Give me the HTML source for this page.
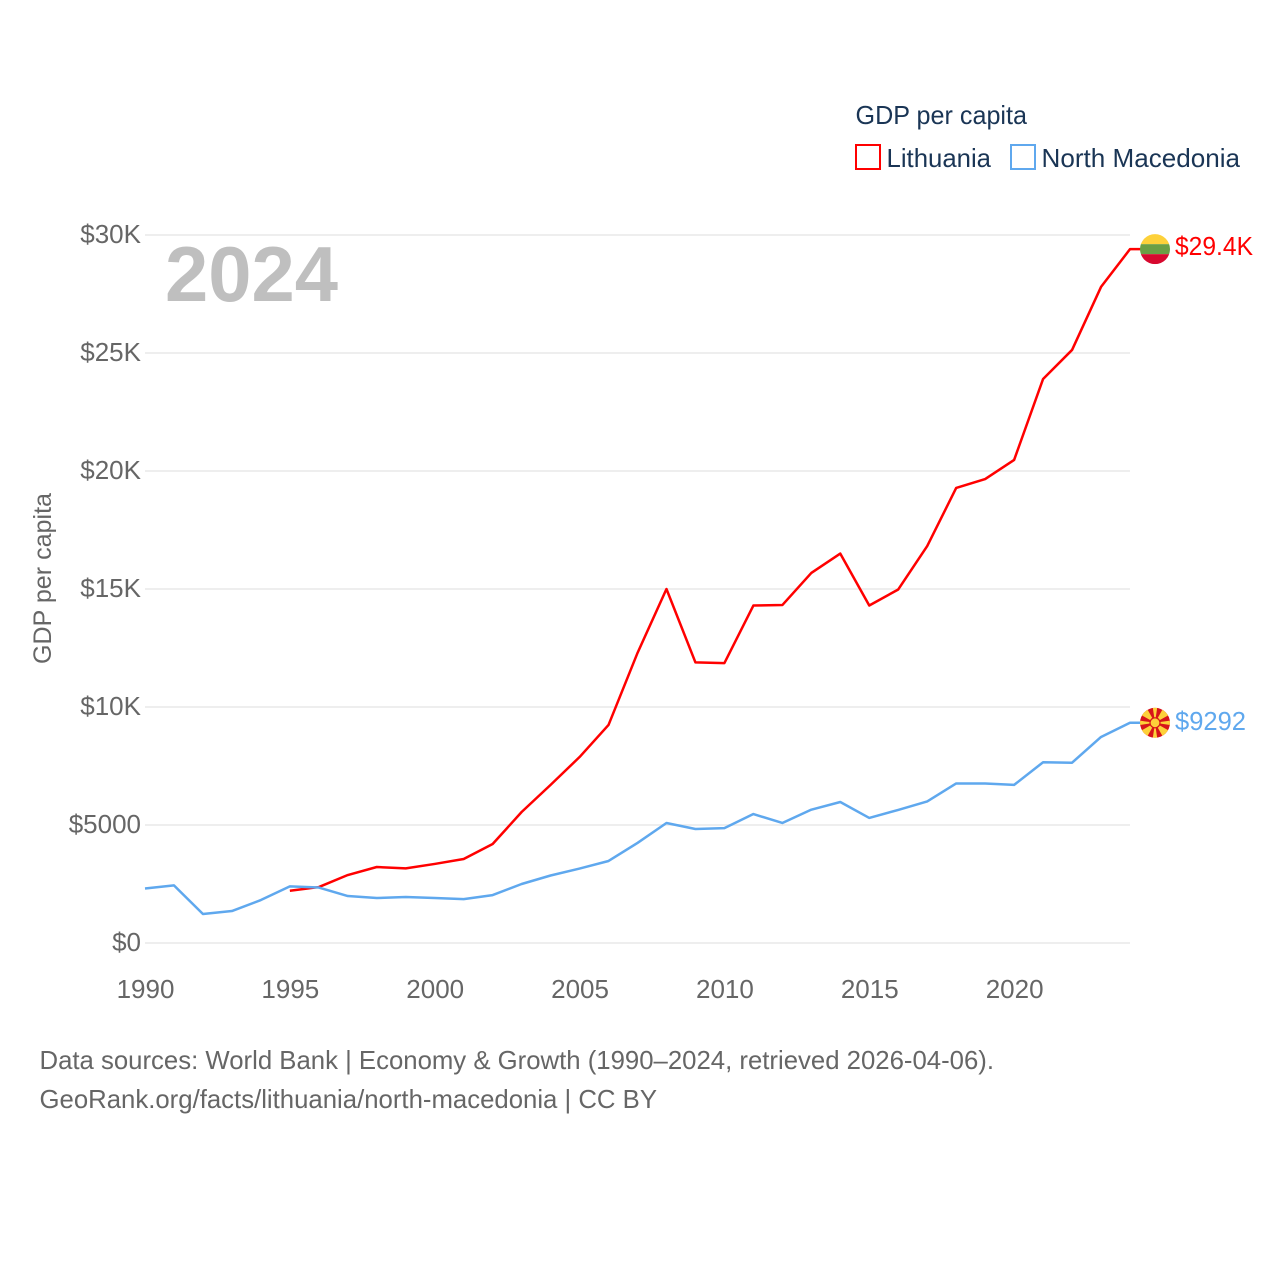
<!DOCTYPE html>
<html lang="en">
<head>
<meta charset="utf-8">
<title>GDP per capita: Lithuania and North Macedonia</title>
<style>
html,body{margin:0;padding:0;background:#fff}
svg{display:block;font-family:"Liberation Sans",sans-serif}
</style>
</head>
<body>
<svg id="chart" width="1280" height="1280" viewBox="0 0 1280 1280" xmlns="http://www.w3.org/2000/svg">
  <defs>
    <clipPath id="flag-clip-lt"><circle cx="0" cy="0" r="15"/></clipPath>
    <clipPath id="flag-clip-mk"><circle cx="0" cy="0" r="15"/></clipPath>
  </defs>
  <g id="grid"></g>
  <g id="y-ticks"></g>
  <g id="x-ticks"></g>
  <g id="series"></g>

  <text x="165" y="301" font-size="78" font-weight="700" fill="#bfbfbf" textLength="173" lengthAdjust="spacingAndGlyphs">2024</text>
  <text transform="translate(51,664) rotate(-90)" font-size="25" fill="#666" textLength="171" lengthAdjust="spacingAndGlyphs">GDP per capita</text>

  <g>
    <text x="855.5" y="124" font-size="26" fill="#1a3555" textLength="171.5" lengthAdjust="spacingAndGlyphs">GDP per capita</text>
    <g>
      <rect x="856" y="145" width="24" height="24" fill="#fff" stroke="#ff0000" stroke-width="2"/>
      <text x="886.5" y="167" font-size="26" fill="#1a3555" textLength="104.5" lengthAdjust="spacingAndGlyphs">Lithuania</text>
    </g>
    <g>
      <rect x="1011" y="145" width="24" height="24" fill="#fff" stroke="#5fa8ee" stroke-width="2"/>
      <text x="1041.5" y="167" font-size="26" fill="#1a3555" textLength="198.5" lengthAdjust="spacingAndGlyphs">North Macedonia</text>
    </g>
  </g>

  <text x="39.5" y="1069" font-size="26" fill="#666" textLength="954.5" lengthAdjust="spacingAndGlyphs">Data sources: World Bank | Economy &amp; Growth (1990–2024, retrieved 2026-04-06).</text>
  <text x="39.5" y="1108" font-size="26" fill="#666" textLength="617.5" lengthAdjust="spacingAndGlyphs">GeoRank.org/facts/lithuania/north-macedonia | CC BY</text>
</svg>
<script>
const years = [1990,1991,1992,1993,1994,1995,1996,1997,1998,1999,2000,2001,2002,2003,2004,2005,2006,2007,2008,2009,2010,2011,2012,2013,2014,2015,2016,2017,2018,2019,2020,2021,2022,2023,2024];
const lithuaniaValues = [null,null,null,null,null,2215,2370,2880,3220,3160,3350,3560,4195,5550,6700,7880,9240,12290,15000,11890,11860,14300,14320,15680,16500,14300,14980,16820,19280,19660,20470,23900,25130,27800,29400];
const macedoniaValues = [2310,2440,1230,1355,1820,2400,2350,1990,1905,1950,1905,1860,2030,2500,2860,3155,3475,4240,5085,4830,4870,5465,5085,5650,5975,5300,5640,6000,6760,6760,6700,7660,7640,8730,9330];
const yTickValues = [0,5000,10000,15000,20000,25000,30000];
const yTickLabels = ["$0","$5000","$10K","$15K","$20K","$25K","$30K"];
const xTickValues = [1990,1995,2000,2005,2010,2015,2020];
const xTickLabels = ["1990","1995","2000","2005","2010","2015","2020"];
const endLabelLithuania = "$29.4K";
const endLabelMacedonia = "$9292";

const NS = "http://www.w3.org/2000/svg";
const xScale = function (year) { return 145 + (year - 1990) * (1130 - 145) / (2024 - 1990); };
const yScale = function (value) { return 943 - value * (943 - 235) / 30000; };
const make = function (tag, attrs, parent) {
  const el = document.createElementNS(NS, tag);
  for (const k in attrs) el.setAttribute(k, attrs[k]);
  parent.appendChild(el);
  return el;
};

const grid = document.getElementById("grid");
const yTicks = document.getElementById("y-ticks");
yTickValues.forEach(function (v, i) {
  const line = make("line", {x1: 145, x2: 1130, y1: yScale(v), y2: yScale(v), stroke: "#eeeeee", "stroke-width": 2}, grid);
  
  
  const label = make("text", {x: 141, y: yScale(v) + 8, "text-anchor": "end", "font-size": 26, fill: "#666"}, yTicks);
  
  
  label.textContent = yTickLabels[i];
});

const xTicks = document.getElementById("x-ticks");
xTickValues.forEach(function (v, i) {
  const label = make("text", {x: xScale(v) + 0.5, y: 998, "text-anchor": "middle", "font-size": 26, fill: "#666"}, xTicks);
  
  
  label.textContent = xTickLabels[i];
});

const series = document.getElementById("series");
const drawLine = function (values, color) {
  const pts = [];
  values.forEach(function (v, i) {
    if (v !== null) pts.push(xScale(years[i]).toFixed(2) + "," + yScale(v).toFixed(2));
  });
  const lastY = yScale(values[values.length - 1]);
  pts.push("1141," + lastY.toFixed(2));
  return make("polyline", {points: pts.join(" "), fill: "none", stroke: color, "stroke-width": 2.5, "stroke-linejoin": "round"}, series);
};
const lineLt = drawLine(lithuaniaValues, "#ff0000");


const lineMk = drawLine(macedoniaValues, "#5fa8ee");



/* Lithuania flag */
const ltY = yScale(lithuaniaValues[lithuaniaValues.length - 1]);
const flagLt = make("g", {transform: "translate(1155," + ltY + ")", "clip-path": "url(#flag-clip-lt)"}, series);


make("rect", {x: -15, y: -15.5, width: 30, height: 10.5, fill: "#fdd13a"}, flagLt);
make("rect", {x: -15, y: -5, width: 30, height: 10, fill: "#6a9f45"}, flagLt);
make("rect", {x: -15, y: 5, width: 30, height: 10, fill: "#d7092f"}, flagLt);
const ltText = make("text", {x: 1175, y: ltY + 6, "font-size": 26, fill: "#ff0000", textLength: 78, lengthAdjust: "spacingAndGlyphs"}, series);


ltText.textContent = endLabelLithuania;

/* North Macedonia flag */
const mkY = yScale(macedoniaValues[macedoniaValues.length - 1]);
const flagMk = make("g", {transform: "translate(1155," + mkY + ")", "clip-path": "url(#flag-clip-mk)"}, series);


make("rect", {x: -15, y: -15, width: 30, height: 30, fill: "#d7141a"}, flagMk);
for (let a = 0; a < 8; a++) {
  const half = (a % 2 === 0) ? 2.6 : 5;
  make("polygon", {points: "0,0 " + (-half) + ",-18 " + half + ",-18", fill: "#fdd13a", transform: "rotate(" + (a * 45) + ")"}, flagMk);
}
make("circle", {cx: 0, cy: 0, r: 5.6, fill: "#d7141a"}, flagMk);
make("circle", {cx: 0, cy: 0, r: 4.4, fill: "#fdd13a"}, flagMk);
const mkText = make("text", {x: 1175, y: mkY + 7, "font-size": 26, fill: "#5fa8ee", textLength: 71, lengthAdjust: "spacingAndGlyphs"}, series);


mkText.textContent = endLabelMacedonia;
</script>
</body>
</html>
